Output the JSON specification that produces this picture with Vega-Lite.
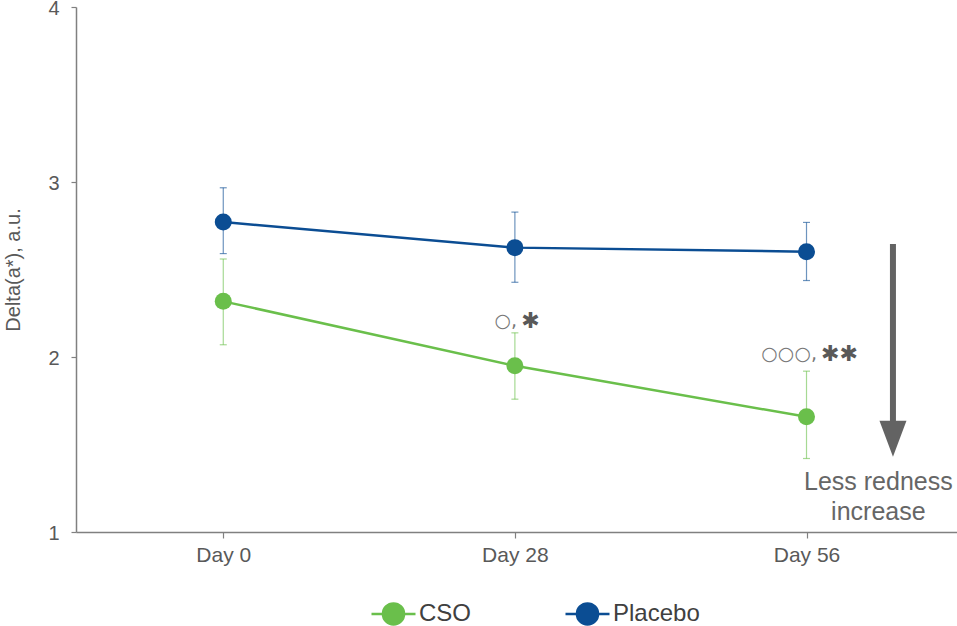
{
  "$schema": "https://vega.github.io/schema/vega-lite/v6.json",
  "width": 881,
  "height": 525,
  "autosize": "none",
  "padding": {"left": 76, "top": 7, "right": 0, "bottom": 94},
  "background": "white",
  "config": {
    "font": "Liberation Sans",
    "view": {"stroke": null},
    "axis": {
      "grid": false,
      "domainColor": "#808080",
      "domainWidth": 1.5,
      "tickColor": "#808080",
      "tickWidth": 1.2,
      "labelFontSize": 20,
      "labelColor": "#595959",
      "titleFontSize": 20,
      "titleFontWeight": "normal",
      "titleColor": "#595959"
    },
    "axisX": {"tickSize": 6, "labelPadding": 6, "labelFontSize": 21},
    "axisY": {"tickSize": 5, "labelPadding": 12, "titlePadding": 24, "labelOffset": 1}
  },
  "datasets": {
    "scores": [
      {"group": "CSO", "day": 0, "mean": 2.318, "lo": 2.07, "hi": 2.56},
      {"group": "CSO", "day": 28, "mean": 1.95, "lo": 1.759, "hi": 2.138},
      {"group": "CSO", "day": 56, "mean": 1.658, "lo": 1.42, "hi": 1.919},
      {"group": "Placebo", "day": 0, "mean": 2.771, "lo": 2.591, "hi": 2.967},
      {"group": "Placebo", "day": 28, "mean": 2.625, "lo": 2.427, "hi": 2.828},
      {"group": "Placebo", "day": 56, "mean": 2.602, "lo": 2.437, "hi": 2.769}
    ],
    "circles": [
      {"day": 28.21, "mean": 2.206, "label": "○,"},
      {"day": 57.01, "mean": 2.018, "label": "○○○,"}
    ],
    "stars": [
      {"day": 28.6, "mean": 2.206, "label": "✱"},
      {"day": 57.4, "mean": 2.018, "label": "✱✱"}
    ],
    "arrow": [
      {"day": 64.3, "top": 2.646, "bottom": 1.6, "head": 1.533}
    ],
    "note": [
      {"day": 62.9, "mean": 1.2415, "label": "Less redness\nincrease"}
    ]
  },
  "encoding": {
    "x": {
      "field": "day",
      "type": "quantitative",
      "title": null,
      "scale": {"domain": [-14.14, 70.45], "nice": false, "zero": false},
      "axis": {"values": [0, 28, 56], "labelExpr": "'Day ' + datum.value"}
    }
  },
  "layer": [
    {
      "data": {"name": "scores"},
      "mark": {"type": "rule", "strokeWidth": 1.2, "opacity": 0.6},
      "encoding": {
        "y": {
          "field": "lo",
          "type": "quantitative",
          "title": "Delta(a*), a.u.",
          "scale": {"domain": [1, 4], "nice": false, "zero": false},
          "axis": {"values": [1, 2, 3, 4], "format": "d"}
        },
        "y2": {"field": "hi"},
        "color": {"field": "group", "type": "nominal"}
      }
    },
    {
      "data": {"name": "scores"},
      "mark": {"type": "tick", "orient": "horizontal", "size": 7, "thickness": 1.2, "opacity": 0.6},
      "encoding": {
        "y": {"field": "lo", "type": "quantitative", "title": "Delta(a*), a.u."},
        "color": {"field": "group", "type": "nominal"}
      }
    },
    {
      "data": {"name": "scores"},
      "mark": {"type": "tick", "orient": "horizontal", "size": 7, "thickness": 1.2, "opacity": 0.6},
      "encoding": {
        "y": {"field": "hi", "type": "quantitative", "title": "Delta(a*), a.u."},
        "color": {"field": "group", "type": "nominal"}
      }
    },
    {
      "data": {"name": "scores"},
      "mark": {"type": "line", "strokeWidth": 2.5},
      "encoding": {
        "y": {"field": "mean", "type": "quantitative", "title": "Delta(a*), a.u."},
        "color": {"field": "group", "type": "nominal"}
      }
    },
    {
      "data": {"name": "scores"},
      "mark": {"type": "point", "filled": true, "size": 289, "opacity": 1, "shape": "circle"},
      "encoding": {
        "y": {"field": "mean", "type": "quantitative", "title": "Delta(a*), a.u."},
        "color": {
          "field": "group",
          "type": "nominal",
          "scale": {"domain": ["CSO", "Placebo"], "range": ["#6abf4b", "#0b4d93"]},
          "legend": {
            "title": null,
            "orient": "none",
            "direction": "horizontal",
            "legendX": 294,
            "legendY": 583,
            "symbolType": "M-1,0H-0.48M0.48,0H1M-0.48,0A0.48,0.48,0,1,1,0.48,0A0.48,0.48,0,1,1,-0.48,0Z",
            "symbolSize": 1936,
            "symbolStrokeWidth": 2.5,
            "symbolOpacity": 1,
            "labelFontSize": 24,
            "labelColor": "#404040",
            "labelOffset": 2,
            "columnPadding": 88,
            "encode": {
              "symbols": {
                "update": {
                  "fill": {"scale": "color", "field": "value"},
                  "stroke": {"scale": "color", "field": "value"},
                  "opacity": {"value": 1},
                  "fillOpacity": {"value": 1},
                  "strokeOpacity": {"value": 1}
                }
              }
            }
          }
        }
      }
    },
    {
      "data": {"name": "circles"},
      "mark": {"type": "text", "font": "DejaVu Sans", "fontSize": 19, "color": "#777777", "baseline": "middle", "align": "right"},
      "encoding": {
        "y": {"field": "mean", "type": "quantitative", "title": "Delta(a*), a.u."},
        "text": {"field": "label"}
      }
    },
    {
      "data": {"name": "stars"},
      "mark": {"type": "text", "font": "DejaVu Sans", "fontSize": 22, "fontWeight": "bold", "color": "#595959", "baseline": "middle", "align": "left"},
      "encoding": {
        "y": {"field": "mean", "type": "quantitative", "title": "Delta(a*), a.u."},
        "text": {"field": "label"}
      }
    },
    {
      "data": {"name": "arrow"},
      "mark": {"type": "rule", "strokeWidth": 6, "color": "#636363"},
      "encoding": {
        "y": {"field": "top", "type": "quantitative", "title": "Delta(a*), a.u."},
        "y2": {"field": "bottom"}
      }
    },
    {
      "data": {"name": "arrow"},
      "mark": {"type": "point", "filled": true, "opacity": 1, "color": "#636363", "size": 1296, "shape": "M-0.75,-1L0.75,-1L0,1Z"},
      "encoding": {
        "y": {"field": "head", "type": "quantitative", "title": "Delta(a*), a.u."}
      }
    },
    {
      "data": {"name": "note"},
      "mark": {"type": "text", "fontSize": 25, "color": "#666666", "align": "center", "baseline": "alphabetic", "lineBreak": "\n", "lineHeight": 30},
      "encoding": {
        "y": {"field": "mean", "type": "quantitative", "title": "Delta(a*), a.u."},
        "text": {"field": "label"}
      }
    }
  ]
}
